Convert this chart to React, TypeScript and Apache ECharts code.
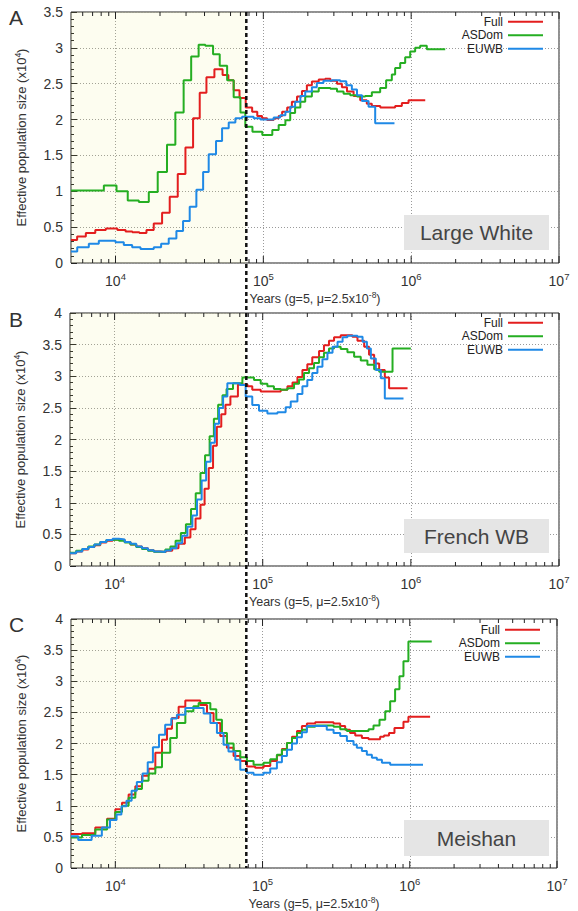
import React, { useEffect, useRef } from 'react';
import * as echarts from 'echarts';

// ---------- Data (years, Ne x10^4) ----------
// Panel A: Large White
const tFullA = [5000,5500,6300,7300,8600,10300,11700,13000,14500,16200,18140,20660,23270,26370,29720,33480,37130,41220,46670,53000,58000,63000,69000,76000,84000,91000,98000,106000,117500,127000,134000,145000,156000,169000,182500,197000,213000,237000,262000,284000,315000,340000,368000,408000,452000,501000,542000,618000,779000,865000,960000,1245000];
const nFullA = [0.32,0.37,0.42,0.46,0.48,0.46,0.44,0.43,0.42,0.46,0.55,0.70,0.925,1.24,1.61,2.02,2.375,2.59,2.70,2.62,2.55,2.41,2.30,2.17,2.11,2.05,2.02,1.995,2.02,2.05,2.11,2.17,2.25,2.32,2.40,2.48,2.53,2.56,2.57,2.54,2.50,2.45,2.39,2.33,2.27,2.22,2.19,2.17,2.19,2.23,2.27];
const tAsdA = [5000,8340,10160,12100,14380,16800,19300,22300,25400,28900,32500,36500,40500,45700,50700,56900,63000,70000,75500,84400,98400,115000,127000,141000,152000,164000,178000,192000,213000,237000,284000,315000,349000,387000,430000,489000,542000,617000,677000,740000,779000,843000,911000,985000,1064000,1150000,1276000,1700000];
const nAsdA = [1.01,1.08,1.00,0.87,0.85,0.99,1.27,1.65,2.10,2.55,2.88,3.045,3.03,2.91,2.75,2.55,2.31,2.10,1.90,1.83,1.785,1.855,1.925,1.99,2.09,2.17,2.25,2.32,2.39,2.44,2.43,2.39,2.36,2.34,2.32,2.33,2.38,2.44,2.55,2.63,2.72,2.79,2.87,2.95,3.00,3.03,2.98];
const tEuwA = [5000,5510,6600,7710,10000,11380,12960,14760,18150,20350,22910,25820,28640,31770,35240,39150,42700,47860,52590,58330,64700,71770,86000,95500,117500,130000,141000,152000,164000,178000,192000,213000,230000,255000,291000,331000,364000,397000,430000,465000,515000,571000,771000];
const nEuwA = [0.16,0.22,0.27,0.31,0.29,0.25,0.22,0.195,0.22,0.27,0.34,0.445,0.585,0.785,1.02,1.27,1.515,1.70,1.88,1.96,2.02,2.04,2.02,2.00,2.03,2.06,2.11,2.18,2.25,2.33,2.39,2.45,2.51,2.54,2.55,2.535,2.48,2.42,2.34,2.26,2.18,1.95];

// Panel B: French WB
const tFullB = [5000,5500,6050,6650,7300,8000,8800,9700,10700,11700,12800,14000,15300,16800,18400,20200,22200,24500,27000,29800,32500,35200,38000,40500,43200,46200,49000,52500,56000,60500,68000,78900,85000,96900,132300,146800,158800,171500,185300,200000,216000,240000,259000,280000,303000,336000,403000,436000,484000,522000,565000,611000,667000,713000,950000];
const nFullB = [0.20,0.23,0.26,0.30,0.33,0.37,0.40,0.42,0.41,0.38,0.34,0.31,0.28,0.25,0.23,0.22,0.24,0.28,0.35,0.45,0.58,0.75,0.97,1.22,1.55,1.90,2.20,2.40,2.55,2.68,2.87,2.84,2.785,2.76,2.785,2.84,2.90,2.99,3.10,3.19,3.30,3.40,3.49,3.56,3.615,3.65,3.625,3.56,3.465,3.34,3.20,3.10,2.98,2.81];
const tAsdB = [5000,5500,6050,6650,7300,8000,8800,9700,10700,11700,12800,14000,15300,16800,18400,20200,22000,23800,25800,28000,30300,32800,35300,38000,40800,43800,46800,50000,53500,57000,63000,72900,87300,96900,107500,119000,132300,146800,162700,175800,190000,205500,222000,240000,259000,280000,303000,336000,373000,414000,459000,509000,565000,611000,752000,1000000];
const nAsdB = [0.21,0.24,0.27,0.31,0.34,0.38,0.41,0.42,0.40,0.37,0.34,0.30,0.27,0.24,0.225,0.225,0.26,0.31,0.40,0.52,0.66,0.90,1.15,1.47,1.75,2.05,2.33,2.55,2.70,2.80,2.89,2.98,2.94,2.88,2.84,2.80,2.785,2.81,2.88,2.95,3.05,3.125,3.21,3.30,3.37,3.44,3.465,3.43,3.38,3.31,3.25,3.18,3.11,3.07,3.44];
const tEuwB = [5000,5500,6050,6650,7300,8000,8800,9700,10700,11700,12800,14000,15300,16800,18400,20200,22000,24000,26200,28600,31000,33500,36000,38700,41500,44500,47500,50700,54000,57700,70000,76700,85000,94400,107500,125700,142800,154500,171500,185300,200000,216000,234000,253000,273500,296000,320000,346000,373000,436000,472000,505000,537000,580000,627000,667000,892000];
const nEuwB = [0.20,0.23,0.27,0.30,0.34,0.38,0.41,0.43,0.42,0.38,0.35,0.31,0.28,0.25,0.23,0.22,0.245,0.28,0.36,0.48,0.62,0.80,1.05,1.35,1.65,1.95,2.25,2.50,2.68,2.89,2.86,2.68,2.545,2.455,2.41,2.43,2.51,2.60,2.72,2.84,2.94,3.05,3.15,3.27,3.37,3.465,3.545,3.615,3.64,3.625,3.545,3.44,3.28,3.10,2.97,2.65];

// Panel C: Meishan
const tFullC = [5000,5940,7310,8790,10000,11100,12310,13670,15170,16830,18700,20750,22430,24250,26920,29880,37760,41940,46480,51620,57280,63560,70560,78300,89000,101600,112800,125200,135400,146500,158500,171400,185100,200100,227800,303700,336800,364000,393000,426000,473000,525000,629000,668000,723000,787000,906000,979000,1374000];
const nFullC = [0.545,0.56,0.65,0.79,0.945,1.05,1.18,1.315,1.48,1.595,1.85,2.06,2.235,2.41,2.59,2.69,2.62,2.49,2.33,2.12,1.93,1.80,1.72,1.63,1.61,1.64,1.72,1.81,1.91,2.01,2.11,2.20,2.28,2.32,2.34,2.32,2.28,2.22,2.17,2.13,2.09,2.07,2.11,2.13,2.17,2.25,2.35,2.43];
const tAsdC = [5000,5940,7310,8790,10000,11100,12310,13670,15170,16830,18700,20750,23600,26200,29900,33900,36800,44200,48500,53000,57300,63600,70600,78300,86900,101600,112800,125200,135400,146500,158500,171400,185100,200100,227800,303700,336800,374000,525000,567000,623000,681000,736000,795000,851000,906000,979000,1410000];
const nAsdC = [0.49,0.53,0.62,0.78,0.90,1.00,1.13,1.27,1.40,1.52,1.62,1.85,2.09,2.33,2.52,2.60,2.65,2.55,2.38,2.17,2.00,1.88,1.78,1.72,1.66,1.69,1.745,1.82,1.90,2.01,2.09,2.17,2.22,2.27,2.29,2.27,2.23,2.20,2.23,2.29,2.38,2.52,2.68,2.87,3.08,3.32,3.64];
const tEuwC = [5000,5600,6900,8100,9200,10200,11000,11900,12900,14000,15300,16600,18000,19800,21800,24000,26200,29900,39800,44200,49000,54300,58700,65300,70600,78300,86900,101600,112800,125200,135400,146500,158500,171400,185100,200100,273000,303700,336800,374000,415000,437000,473000,511000,553000,598000,647000,736000,1230000];
const nEuwC = [0.51,0.45,0.52,0.65,0.77,0.86,0.99,1.08,1.24,1.38,1.52,1.70,1.94,2.14,2.30,2.40,2.46,2.57,2.48,2.33,2.17,1.98,1.87,1.74,1.58,1.53,1.50,1.53,1.60,1.70,1.80,1.90,2.00,2.10,2.18,2.28,2.22,2.17,2.12,2.04,1.98,1.93,1.88,1.82,1.77,1.74,1.69,1.66];

const SERIES_NAMES = ['Full', 'ASDom', 'EUWB'];
const PANEL_LETTERS = ['A', 'B', 'C'];
const PANEL_NAMES = ['Large White', 'French WB', 'Meishan'];
const Y_MAX = [3.5, 4, 4];
const X_MIN = 5000;
const X_MAX = 10000000;
const T_DASH = 76700;
const X_TICKS = [6000,7000,8000,9000,10000,20000,30000,40000,50000,60000,70000,80000,90000,100000,200000,300000,400000,500000,600000,700000,800000,900000,1000000,2000000,3000000,4000000,5000000,6000000,7000000,8000000,9000000,10000000];

const PANEL_DATA = [
  [[tFullA, nFullA], [tAsdA, nAsdA], [tEuwA, nEuwA]],
  [[tFullB, nFullB], [tAsdB, nAsdB], [tEuwB, nEuwB]],
  [[tFullC, nFullC], [tAsdC, nAsdC], [tEuwC, nEuwC]],
];

// ---------- Styling / layout ----------
const FONT = '"Liberation Sans", Arial, Helvetica, sans-serif';
const COLORS = ['#e31e1e', '#25ae22', '#1f89e6'];
const GRIDS = [
  { left: 71, top: 12, width: 488, height: 251 },
  { left: 70, top: 313, width: 489, height: 253 },
  { left: 71, top: 619, width: 486, height: 250 },
];
const LEGEND_POS = [
  { top: 15, right: 35 },
  { top: 316, right: 35 },
  { top: 623, right: 38 },
];
const BOX_POS = [
  { x: 404, y: 215, w: 145, h: 35 },
  { x: 404, y: 519, w: 145, h: 34 },
  { x: 404, y: 820, w: 145, h: 36 },
];
const LETTER_Y = [18, 320, 625];

function toSteps(times: number[], vals: number[]) {
  const d: number[][] = vals.map((v, i) => [times[i], v]);
  d.push([times[times.length - 1], vals[vals.length - 1]]);
  return d;
}

function isPow10(v: number) {
  const l = Math.log10(v);
  return Math.abs(l - Math.round(l)) < 1e-9;
}

export default function App() {
  const ref = useRef<HTMLDivElement>(null);

  useEffect(() => {
    if (!ref.current) return;
    const chart = echarts.init(ref.current, undefined, { renderer: 'svg' });

    const supRich = {
      b: { fontSize: 14, color: '#333', fontFamily: FONT, verticalAlign: 'bottom', lineHeight: 16 },
      s: { fontSize: 9.5, color: '#333', fontFamily: FONT, verticalAlign: 'bottom', padding: [0, 0, 7, 0] },
    };
    const nameRich = {
      a: { fontSize: 12.5, color: '#333', fontFamily: FONT, verticalAlign: 'bottom', lineHeight: 15 },
      s: { fontSize: 8.5, color: '#333', fontFamily: FONT, verticalAlign: 'bottom', padding: [0, 0, 6, 0] },
    };

    const grid = GRIDS.map((g) => ({
      ...g,
      show: true,
      backgroundColor: '#fff',
      borderColor: '#222',
      borderWidth: 1,
      containLabel: false,
    }));

    const xAxis = GRIDS.map((_, i) => ({
      type: 'log',
      logBase: 10,
      gridIndex: i,
      min: X_MIN,
      max: X_MAX,
      axisLine: { show: false },
      axisTick: { show: false },
      axisLabel: {
        margin: 8,
        formatter: (v: number) => (isPow10(v) ? `{b|10}{s|${Math.round(Math.log10(v))}}` : ''),
        rich: supRich,
      },
      splitLine: { show: true, lineStyle: { color: '#9a9a9a', type: [1, 2], width: 1 } },
      name: '{a|Years (g=5, μ=2.5x10}{s|-8}{a|)}',
      nameLocation: 'middle',
      nameGap: 27,
      nameTextStyle: { rich: nameRich },
    }));

    const yAxis = GRIDS.map((_, i) => ({
      type: 'value',
      gridIndex: i,
      min: 0,
      max: Y_MAX[i],
      interval: 0.5,
      axisLine: { show: false },
      axisTick: { show: true, inside: true, length: 6, lineStyle: { color: '#222' } },
      minorTick: { show: true, splitNumber: 5, length: 3, lineStyle: { color: '#222' } },
      axisLabel: { margin: 8, fontSize: 14, color: '#333', fontFamily: FONT },
      splitLine: { show: true, lineStyle: { color: '#9a9a9a', type: [1, 2], width: 1 } },
      name: '{a|Effective population size (x10}{s|4}{a|)}',
      nameLocation: 'middle',
      nameRotate: 90,
      nameGap: 43,
      nameTextStyle: { rich: { ...nameRich, a: { ...nameRich.a, fontSize: 13 } } },
    }));

    const series: any[] = [];
    PANEL_DATA.forEach((panel, pi) => {
      panel.forEach(([t, n], si) => {
        const s: any = {
          type: 'line',
          name: SERIES_NAMES[si],
          xAxisIndex: pi,
          yAxisIndex: pi,
          step: 'end',
          symbol: 'none',
          showSymbol: false,
          lineStyle: { width: 2, color: COLORS[si] },
          itemStyle: { color: COLORS[si] },
          data: toSteps(t as number[], n as number[]),
          z: 3,
        };
        if (si === 0) {
          s.markArea = {
            silent: true,
            itemStyle: { color: 'rgba(235,235,120,0.11)' },
            data: [[{ xAxis: X_MIN }, { xAxis: T_DASH }]],
          };
        }
        series.push(s);
      });
      series.push({
        type: 'custom',
        name: '_ticks' + pi,
        xAxisIndex: pi,
        yAxisIndex: pi,
        silent: true,
        z: 4,
        data: X_TICKS.map((v) => [v, isPow10(v) ? 1 : 0]),
        renderItem: (params: any, api: any) => {
          const x = api.coord([api.value(0), 0])[0];
          const cs = params.coordSys;
          const len = api.value(1) === 1 ? 7 : 4;
          return {
            type: 'group',
            children: [
              { type: 'line', shape: { x1: x, y1: cs.y + cs.height, x2: x, y2: cs.y + cs.height - len }, style: { stroke: '#222', lineWidth: 1 } },
              { type: 'line', shape: { x1: x, y1: cs.y, x2: x, y2: cs.y + len }, style: { stroke: '#222', lineWidth: 1 } },
            ],
          };
        },
      });
    });

    const legend = LEGEND_POS.map((p) => ({
      ...p,
      orient: 'vertical',
      align: 'right',
      icon: 'rect',
      itemWidth: 35,
      itemHeight: 2,
      itemGap: 0,
      padding: 0,
      selectedMode: false,
      data: SERIES_NAMES,
      textStyle: { fontSize: 12, color: '#222', fontFamily: FONT, lineHeight: 13.5, padding: 0 },
    }));

    const graphic: any[] = [];
    PANEL_LETTERS.forEach((l, i) => {
      graphic.push({
        type: 'text',
        left: 9,
        top: LETTER_Y[i] - 11,
        style: { text: l, fontSize: 21, fill: '#333', fontFamily: FONT },
      });
      const b = BOX_POS[i];
      graphic.push({
        type: 'rect',
        shape: { x: b.x, y: b.y, width: b.w, height: b.h },
        style: { fill: '#e5e5e5' },
        z: 50,
      });
      graphic.push({
        type: 'text',
        x: b.x + b.w / 2,
        y: b.y + b.h / 2,
        style: { text: PANEL_NAMES[i], fontSize: 21, fill: '#444', fontFamily: FONT, align: 'center', verticalAlign: 'middle' },
        z: 51,
      });
    });

    chart.setOption({
      animation: false,
      grid,
      xAxis,
      yAxis,
      legend,
      series,
      graphic,
    });

    const xd = chart.convertToPixel({ xAxisIndex: 0 } as any, T_DASH) as number;
    const yTop = chart.convertToPixel({ yAxisIndex: 0 } as any, Y_MAX[0]) as number;
    const yBot = chart.convertToPixel({ yAxisIndex: 2 } as any, 0) as number;
    chart.setOption({
      graphic: [
        ...graphic,
        {
          type: 'line',
          shape: { x1: xd, y1: yTop, x2: xd, y2: yBot },
          style: { stroke: '#111', lineWidth: 2.5, lineDash: [4, 3] },
          z: 100,
        },
      ],
    });

    return () => chart.dispose();
  }, []);

  return (
    <div
      ref={ref}
      style={{ position: 'absolute', left: 0, top: 0, width: 578, height: 911, background: '#fff' }}
    />
  );
}
